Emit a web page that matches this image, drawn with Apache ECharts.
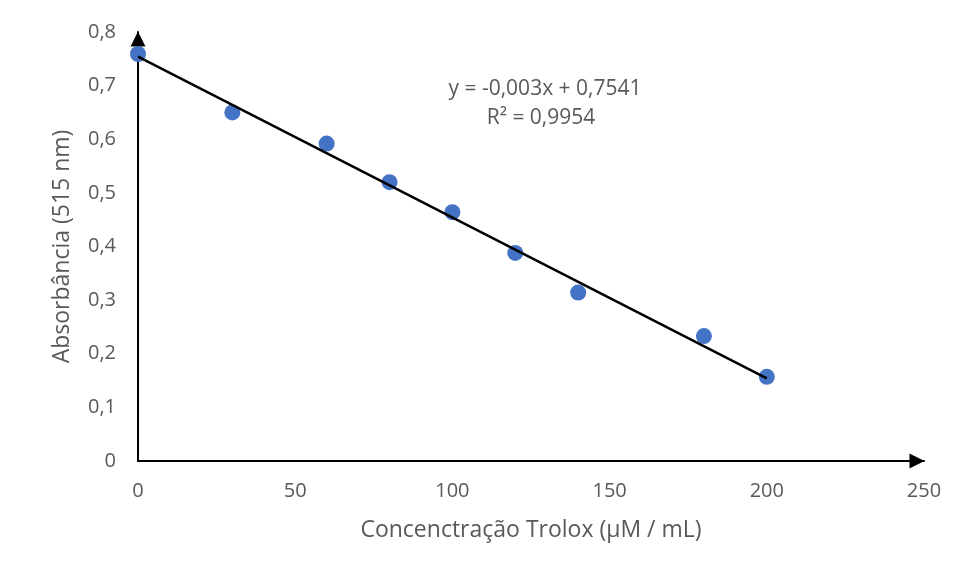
<!DOCTYPE html>
<html>
<head>
<meta charset="utf-8">
<script src="https://cdn.jsdelivr.net/npm/echarts@6/dist/echarts.min.js"></script>
<style>
  html, body { margin: 0; padding: 0; background: #fff; }
  #chart { width: 964px; height: 576px; }
</style>
</head>
<body>
<div id="chart"></div>
<script>
// trolox concentration (µM / mL) and absorbance at 515 nm
var concentration = [0, 30, 60, 80, 100, 120, 140, 180, 200];
var absorbance = [0.759, 0.650, 0.592, 0.520, 0.464, 0.388, 0.314, 0.233, 0.157];

// linear trendline, from the equation on the chart
var slope = -0.003;
var intercept = 0.7541;
var trendX = [0, 200];

var equationText = "y = -0,003x + 0,7541";
var r2Text = "R² = 0,9954";

var chart = echarts.init(document.getElementById("chart"));

var points = concentration.map(function (x, i) {
  return [x, absorbance[i]];
});
var trend = trendX.map(function (x) {
  return [x, slope * x + intercept];
});

function comma(v) {
  return String(Math.round(v * 10) / 10).replace(".", ",");
}

var grey = "#595959";
var font = "'Open Sans', 'Noto Sans', sans-serif";

chart.setOption({
  animation: false,
  backgroundColor: "#fff",
  grid: { left: 138, right: 40, top: 32, bottom: 115 },
  xAxis: {
    type: "value",
    min: 0,
    max: 250,
    interval: 50,
    name: "Concenctração Trolox (µM / mL)",
    nameLocation: "middle",
    nameGap: 58,
    nameTextStyle: { color: grey, fontSize: 23, fontFamily: font },
    axisLine: {
      lineStyle: { color: "#000", width: 2 },
      symbol: ["none", "triangle"],
      symbolSize: [15, 15],
      symbolOffset: [0, -7]
    },
    axisTick: { show: false },
    splitLine: { show: false },
    axisLabel: { color: grey, fontSize: 20, fontFamily: font, margin: 20 }
  },
  yAxis: {
    type: "value",
    min: 0,
    max: 0.8,
    interval: 0.1,
    name: "Absorbância (515 nm)",
    nameLocation: "middle",
    nameGap: 64,
    nameTextStyle: { color: grey, fontSize: 23, fontFamily: font },
    axisLine: {
      show: true,
      lineStyle: { color: "#000", width: 2 },
      symbol: ["none", "triangle"],
      symbolSize: [15, 15],
      symbolOffset: [0, -7]
    },
    axisTick: { show: false },
    splitLine: { show: false },
    axisLabel: {
      color: grey,
      fontSize: 20,
      fontFamily: font,
      margin: 22,
      formatter: comma
    }
  },
  graphic: [
    {
      type: "text",
      x: 545,
      y: 89,
      style: {
        text: equationText,
        fill: grey,
        font: "21px " + font,
        align: "center",
        verticalAlign: "middle"
      }
    },
    {
      type: "text",
      x: 541,
      y: 118,
      style: {
        text: r2Text,
        fill: grey,
        font: "21px " + font,
        align: "center",
        verticalAlign: "middle"
      }
    }
  ],
  series: [
    {
      type: "line",
      data: trend,
      symbol: "none",
      lineStyle: { color: "#000", width: 2.5 },
      z: 3
    },
    {
      type: "scatter",
      data: points,
      symbolSize: 16,
      itemStyle: { color: "#4472C4", opacity: 1 },
      z: 2
    }
  ]
});
</script>
</body>
</html>
